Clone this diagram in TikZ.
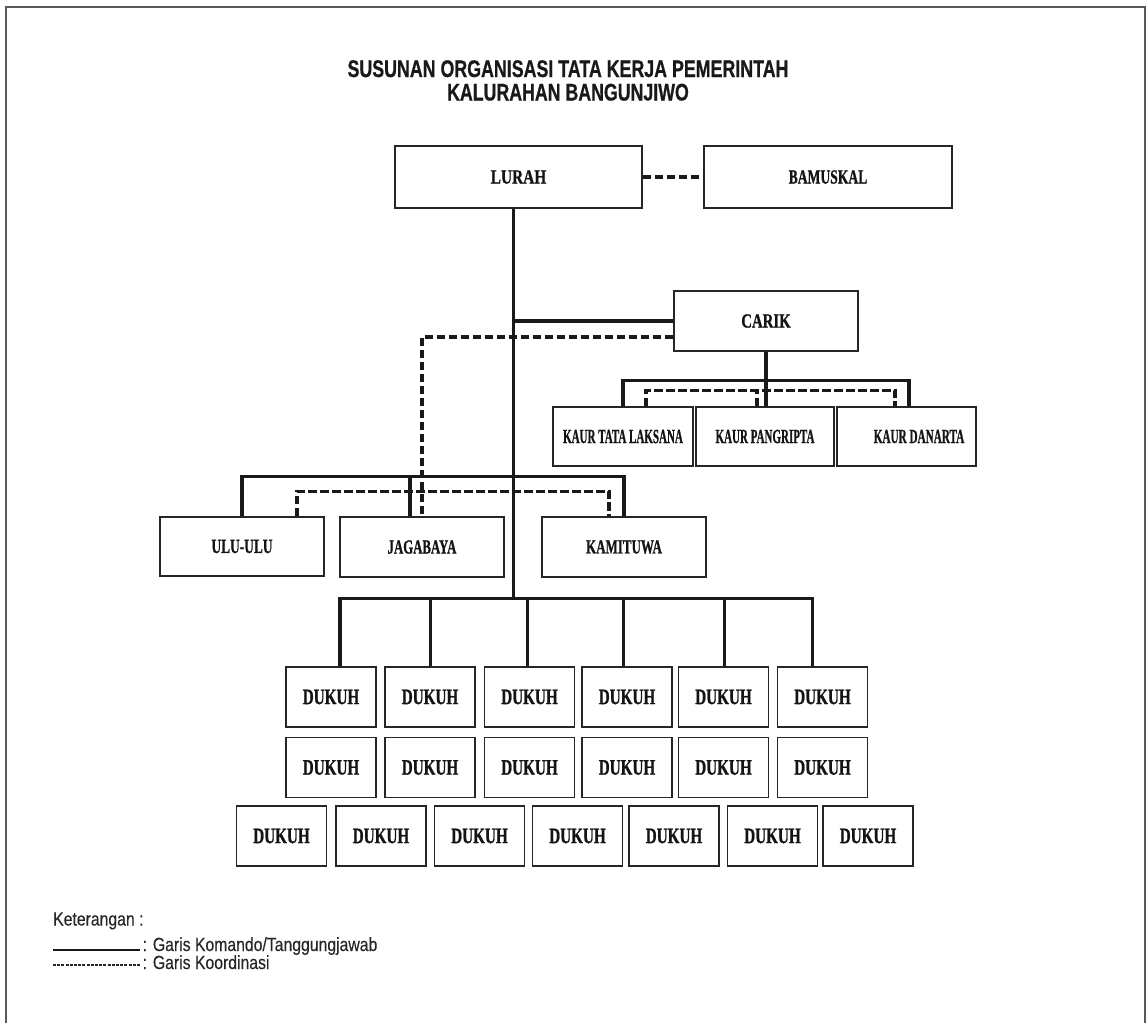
\documentclass[tikz,border=0pt]{standalone}
\usepackage{fontspec}
\setmainfont{Liberation Serif}
\newfontfamily\boxf{Liberation Serif}[BoldFeatures={FakeBold=1.2}]
\newfontfamily\sansf{Liberation Sans}[BoldFeatures={FakeBold=0.8}]
\newfontfamily\legf{Liberation Sans}[FakeBold=0.3]
\usetikzlibrary{calc}
\newcommand\sx[2]{\scalebox{#1}[1]{#2}}
\begin{document}
\begin{tikzpicture}[x=1pt,y=-1pt,
  box/.style={draw=black!85, line width=1.5pt, rectangle, inner sep=0pt,
    font=\boxf\bfseries\fontsize{20}{20}\selectfont, text=black!92},
  dukuh/.style={box, minimum width=90, minimum height=60, font=\boxf\bfseries\fontsize{22}{22}\selectfont},
  kaur/.style={box, minimum height=59},
  mid/.style={box, minimum width=164, minimum height=60},
  cmd/.style={draw=black!90, line width=3.2pt},
  crd/.style={draw=black!90, line width=3.1pt, dash pattern=on 8.5pt off 3.5pt},
  ttl/.style={font=\sansf\bfseries\fontsize{24}{24}\selectfont, inner sep=0pt, anchor=base, text=black!90},
  leg/.style={font=\legf\fontsize{19}{19}\selectfont, inner sep=0pt, anchor=base west, text=black!85}]
\useasboundingbox (0,0) rectangle (1146,1023);
% frame
\draw[line width=1.5pt, black!65] (6,1023) -- (6,7) -- (1145,7) -- (1145,1023);
% title
\node[ttl] (t1) at (568,77) {\sx{0.742}{SUSUNAN ORGANISASI TATA KERJA PEMERINTAH}};
\node[ttl] (t2) at (568,100.5) {\sx{0.74}{KALURAHAN BANGUNJIWO}};
% top boxes
\node[box, minimum width=247, minimum height=62] (lurah) at (518.5,177) {\sx{0.77}{LURAH}};
\node[box, minimum width=248, minimum height=62] (bamuskal) at (828,177) {\sx{0.68}{BAMUSKAL}};
\node[box, minimum width=184, minimum height=60] (carik) at (766,321) {\sx{0.74}{CARIK}};
\node[kaur, minimum width=140] (kaur1) at (623,436.5) {\sx{0.55}{KAUR TATA LAKSANA}};
\node[kaur, minimum width=138] (kaur2) at (765,436.5) {\sx{0.55}{KAUR PANGRIPTA}};
\node[kaur, minimum width=139] (kaur3) at (906.5,436.5) {\hspace*{25pt}\sx{0.56}{KAUR DANARTA}};
\node[mid, minimum height=59] (ulu) at (242,546.5) {\sx{0.67}{ULU-ULU}};
\node[mid] (jagabaya) at (422,547) {\sx{0.64}{JAGABAYA}};
\node[mid] (kamituwa) at (624,547) {\sx{0.65}{KAMITUWA}};
% dukuh
\foreach \x [count=\i] in {331,430,529.5,627,723.5,822.5} {
  \node[dukuh] (d1\i) at (\x,697) {\sx{0.69}{DUKUH}};
  \node[dukuh] (d2\i) at (\x,767.5) {\sx{0.69}{DUKUH}};
}
\foreach \x [count=\i] in {281.5,381,479.5,577.5,674,772.5,868} {
  \node[dukuh] (d3\i) at (\x,836) {\sx{0.69}{DUKUH}};
}
% connectors
\coordinate (dbus) at (513.5,599);
\draw[crd] (lurah.east) -- (bamuskal.west);
\draw[cmd] (dbus |- lurah.south) -- (dbus);
\draw[cmd] (carik.west) -- (carik.west -| dbus);
\draw[crd] ($(carik.west)+(0,16)$) -| (jagabaya.north);
\draw[cmd] (carik.south) -- (carik.south |- kaur2.north);
\draw[cmd] (kaur1.north) |- ($(kaur3.north)+(2.5,-26)$) -- ($(kaur3.north)+(2.5,0)$);
\draw[crd] ($(kaur1.north)+(23,0)$) |- ($(kaur3.north)+(-11.5,-16)$) -- ($(kaur3.north)+(-11.5,0)$);
\draw[crd] ($(kaur2.north)+(-8,0)$) -- ++(0,-16);
\draw[cmd] (ulu.north) |- ($(kamituwa.north)+(0,-40)$) -- (kamituwa.north);
\draw[cmd] ($(jagabaya.north)+(-12,0)$) -- ++(0,-40);
\draw[crd] ($(ulu.north)+(55,0)$) |- ($(kamituwa.north)+(-15,-25)$) -- ($(kamituwa.north)+(-15,0)$);
\draw[cmd] ($(d11.north)+(9,0)$) |- ($(d16.north)+(-9.9,-68)$) -- ($(d16.north)+(-9.9,0)$);
\foreach \i/\dx in {2/0.4,3/-1.7,4/-3.2,5/1.1} {
  \draw[cmd] ($(d1\i.north)+(\dx,0)$) -- ++(0,-68);
}
% legend
\node[leg] (k0) at (53,925.5) {\sx{0.83}{Keterangan :}};
\node[leg] (k1) at (142.5,951) {\sx{0.83}{: Garis Komando/Tanggungjawab}};
\node[leg] (k2) at (142.5,969) {\sx{0.83}{: Garis Koordinasi}};
\draw[line width=2.6pt, black!90] (53,950) -- (140,950);
\draw[line width=1.8pt, black!85, dash pattern=on 3pt off 1.2pt] (53,965) -- (140,965);
\end{tikzpicture}
\end{document}
